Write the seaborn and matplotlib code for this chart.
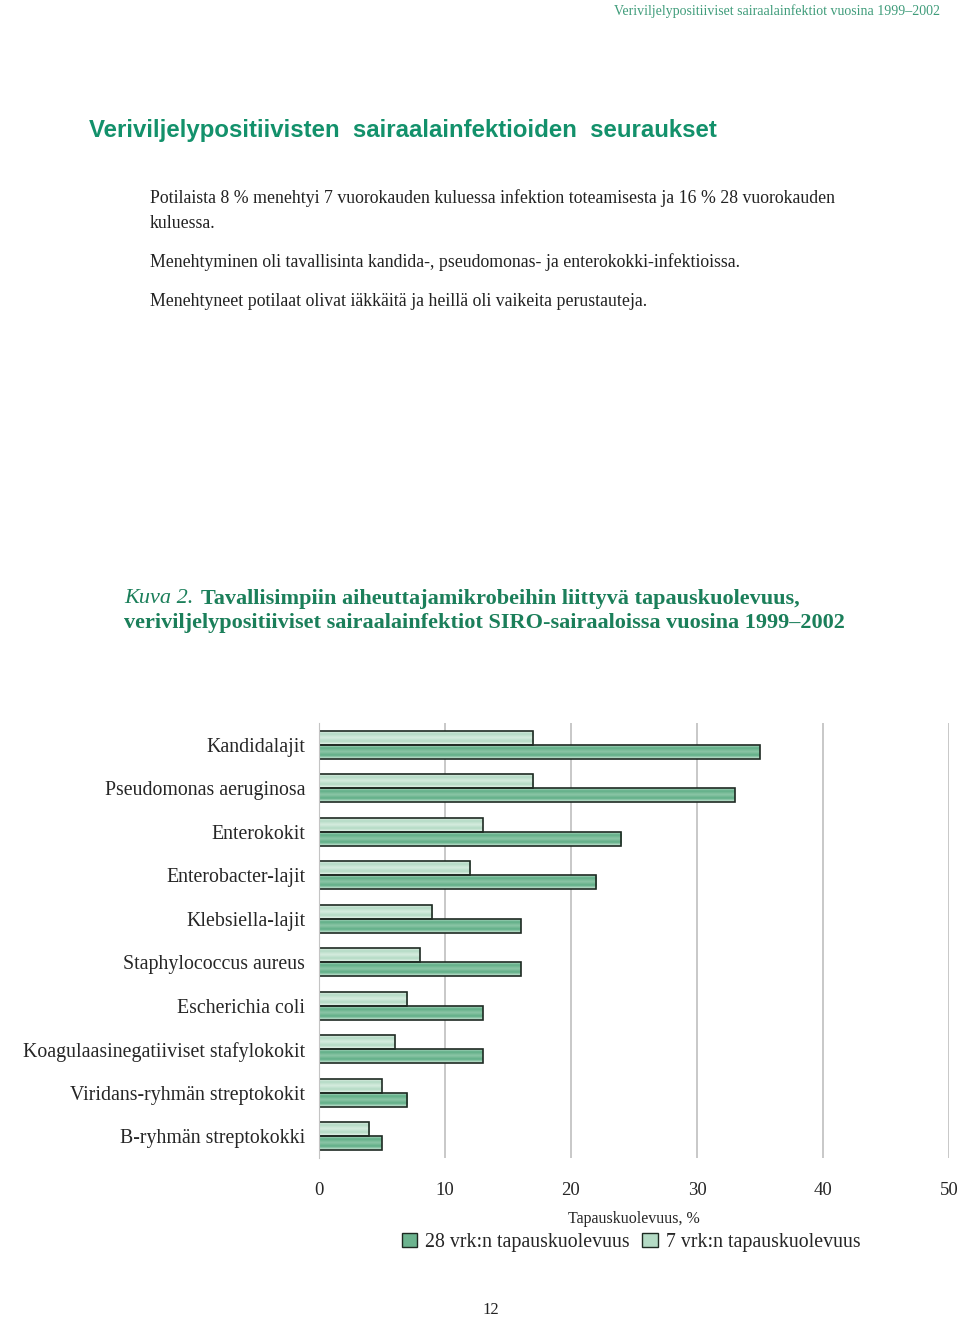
import numpy as np
import pandas as pd
import matplotlib.pyplot as plt
import seaborn as sns
from matplotlib.colors import LinearSegmentedColormap
from matplotlib.patches import Patch

# Data
categories = ["Kandidalajit", "Pseudomonas aeruginosa", "Enterokokit",
              "Enterobacter-lajit", "Klebsiella-lajit", "Staphylococcus aureus",
              "Escherichia coli", "Koagulaasinegatiiviset stafylokokit",
              "Viridans-ryhmän streptokokit", "B-ryhmän streptokokki"]
day7 = [17, 17, 13, 12, 9, 8, 7, 6, 5, 4]
day28 = [35, 33, 24, 22, 16, 16, 13, 13, 7, 5]
series = ["7 vrk:n tapauskuolevuus", "28 vrk:n tapauskuolevuus"]

df = pd.DataFrame({
    "mikrobi": categories * 2,
    "arvo": day7 + day28,
    "sarja": [series[0]] * len(categories) + [series[1]] * len(categories),
})

W, H = 960, 1317
fig = plt.figure(figsize=(W / 100, H / 100), dpi=100)
sns.set_style("white")
plt.rcParams['font.family'] = ['Liberation Serif', 'DejaVu Serif']

def fy(y):
    return 1 - y / H

green = "#13916b"
cap_green = "#1b7f5a"

# page texts
fig.text(940 / W, fy(11), "Veriviljelypositiiviset sairaalainfektiot vuosina 1999\u20132002",
         ha="right", va="center", fontsize=10, color="#3f9c7a")
fig.text(89 / W, fy(131), "Veriviljelypositiivisten  sairaalainfektioiden  seuraukset",
         ha="left", va="center", fontsize=17.3, fontweight="bold", color=green,
         family=["Liberation Sans", "DejaVu Sans"])
body = [(198, "Potilaista 8 % menehtyi 7 vuorokauden kuluessa infektion toteamisesta ja 16 % 28 vuorokauden"),
        (223, "kuluessa."),
        (262, "Menehtyminen oli tavallisinta kandida-, pseudomonas- ja enterokokki-infektioissa."),
        (301, "Menehtyneet potilaat olivat iäkkäitä ja heillä oli vaikeita perustauteja.")]
for y, t in body:
    fig.text(150 / W, fy(y), t, ha="left", va="center", fontsize=12.8, color="#222222")

fig.text(124 / W, fy(599), "Kuva 2.", ha="left", va="center", fontsize=16,
         style="italic", color=cap_green)
fig.text(201 / W, fy(599), "Tavallisimpiin aiheuttajamikrobeihin liittyvä tapauskuolevuus,",
         ha="left", va="center", fontsize=16, fontweight="bold", color=cap_green)
fig.text(124 / W, fy(623), "veriviljelypositiiviset sairaalainfektiot SIRO-sairaaloissa vuosina 1999\u20132002",
         ha="left", va="center", fontsize=16, fontweight="bold", color=cap_green)
fig.text(491 / W, fy(1310), "12", ha="center", va="center", fontsize=12, color="#222222")

# chart
ax = fig.add_axes([319 / W, fy(1158), (949 - 319) / W, (1158 - 723) / H])
sns.barplot(data=df, x="arvo", y="mikrobi", hue="sarja", hue_order=series,
            orient="h", width=0.65, ax=ax, edgecolor="#1e2a22", linewidth=1.2,
            legend=False)

# cylinder-like gradient fill for the bars
cmap7 = LinearSegmentedColormap.from_list("c7", ["#f0f8f3", "#b3dac4", "#d6ecdf", "#b3dac4", "#eef7f1"])
cmap28 = LinearSegmentedColormap.from_list("c28", ["#d6ede0", "#5fae86", "#8cc6a6", "#5fae86", "#d6ede0"])
grad = np.linspace(0, 1, 64).reshape(-1, 1)
for cont, cm in zip(ax.containers, [cmap7, cmap28]):
    for bar in cont:
        bar.set_facecolor("none")
        x0, y0 = bar.get_x(), bar.get_y()
        w, h = bar.get_width(), bar.get_height()
        im = ax.imshow(grad, cmap=cm, aspect="auto", extent=(x0, x0 + w, y0 + h, y0),
                       zorder=bar.get_zorder() - 0.1)
        im.set_clip_path(bar)

ax.set_xlim(0, 50)
ax.set_ylim(len(categories) - 0.5, -0.5)
ax.set_xticks([0, 10, 20, 30, 40, 50])
ax.grid(axis="x", color="#c4c4c4", linewidth=1.3)
ax.set_axisbelow(True)
for s in ["top", "right", "bottom"]:
    ax.spines[s].set_visible(False)
ax.spines["left"].set_color("#c4c4c4")
ax.tick_params(axis="x", length=0, pad=17, labelsize=13.5)
ax.tick_params(axis="y", length=0, pad=10, labelsize=14.3)
ax.set_ylabel("")
ax.set_xlabel("Tapauskuolevuus, %", fontsize=11.5, labelpad=9)

handles = [Patch(facecolor="#6cb48f", edgecolor="#1e2a22", label="28 vrk:n tapauskuolevuus"),
           Patch(facecolor="#b4dbc5", edgecolor="#1e2a22", label="7 vrk:n tapauskuolevuus")]
fig.legend(handles=handles, loc="center", bbox_to_anchor=(631 / W, fy(1242)), ncol=2,
           frameon=False, fontsize=14.3, handlelength=0.8, handleheight=0.7,
           handletextpad=0.4, columnspacing=0.6)

fig.savefig("out.png", dpi=100)
